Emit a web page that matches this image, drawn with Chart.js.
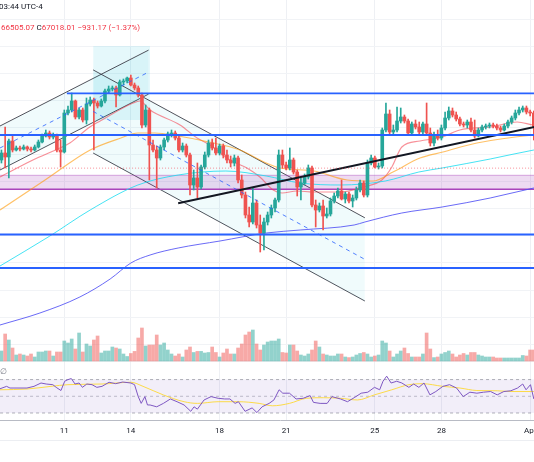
<!DOCTYPE html>
<html>
<head>
<meta charset="utf-8">
<script src="https://cdn.jsdelivr.net/npm/chart.js@4.4.1/dist/chart.umd.min.js"></script>
<style>
html,body{margin:0;padding:0;background:#fff;overflow:hidden;width:534px;height:462px;}
#wrap{position:relative;width:620px;height:462px;}
#c{position:absolute;left:0;top:0;}
.t{position:absolute;font-family:Roboto,"Liberation Sans",sans-serif;font-size:8px;white-space:nowrap;color:#131722;line-height:10px;}
.r{color:#f23645;}
#axb{position:absolute;left:0;top:440px;width:620px;height:1px;background:#eceef2;}
</style>
</head>
<body>
<div id="wrap">
<canvas id="c" width="620" height="462"></canvas>
<div class="t" style="left:-1px;top:2px;">03:44 UTC-4</div>
<div class="t" style="left:1px;top:23px;"><span class="r">66505.07</span> C<span class="r">67018.01</span> <span class="r">−931.17 (−1.37%)</span></div>
<div class="t" style="left:0;top:367px;color:#787b86;">∅</div>
<div id="axb"></div>
</div>
<script>
// ---- time axis (4h candles, index 0 = Mar 8 04:00) ----
const dayTickIdx = [17, 35, 59, 77, 101, 119, 143];
const dayTickLabels = ['11', '14', '18', '21', '25', '28', 'Apr'];

// ---- candles (BTC, 4h) ----
const open = [
67620,68138,67842,69026,68360,68508,68434,68582,68434,68360,
68582,68952,69396,69618,69322,69470,68360,68212,71098,71320,
71986,70802,71320,70580,71764,72060,71838,71616,71986,72726,
72874,72948,72430,73392,73466,73688,73170,72948,72430,70210,
71320,68730,68360,67768,68582,69100,69544,69618,69248,68360,
68656,67990,65770,66288,65622,67102,67990,68878,68508,68138,
68656,67990,67620,67398,67768,66140,65030,63550,63032,64438,
62810,62218,63032,63550,64068,64660,67990,67250,67028,67620,
66732,65622,65918,66362,67028,64290,63920,64216,63476,63624,
64586,64956,65326,64734,65104,64586,64808,65400,65918,65030,
67398,67768,67102,67176,69840,71024,69692,69840,70506,70802,
70506,69618,70284,70062,69692,70284,69618,68878,69470,69248,
69988,70728,71246,70950,70654,70284,70210,70432,69840,69396,
69840,70062,70136,70210,70136,69988,69840,70136,70432,70728,
71098,71320,71468,71172,71098];
const high = [
68360,70062,69174,69396,68656,68656,68730,68656,68582,68730,
69100,69544,69840,69766,69618,69544,69100,71320,71616,72578,
72060,71468,71468,72208,72282,72208,71986,72134,72874,73096,
73096,73096,73540,73614,73762,73910,73318,73096,72578,71690,
71468,69100,68656,68730,69248,69692,69840,69766,69470,68878,
68804,68138,66880,67398,67250,68212,69100,69174,69248,68804,
68804,68360,67916,67990,67916,66510,65252,64142,65548,64660,
63550,63328,63772,64290,64808,68360,68360,67472,68508,67768,
66880,66288,66584,67250,67176,64660,64438,64660,64068,64808,
65178,65548,66140,65252,65252,65030,65622,66140,66066,67620,
67990,67916,67398,69988,71838,71320,70210,71542,71468,70950,
70654,70432,70580,70432,70432,71838,69988,69692,69840,70210,
71172,71542,71468,71172,70802,70432,70580,70728,70580,69988,
70210,70284,70358,70358,70284,70136,70284,70580,70876,71320,
71542,71616,71616,71320,71246];
const low = [
67398,67028,66288,68212,68286,68286,68360,68286,68212,68286,
68508,68878,69322,69174,69174,68212,67102,68138,70950,71172,
70654,70654,70432,70284,71616,68360,71468,71542,71838,72578,
72726,71542,72356,73170,73318,73096,72800,72282,69988,70062,
66140,68212,65548,67620,68360,68952,69322,69100,68212,68212,
67842,65030,65400,64808,65474,66954,67842,68360,67990,67990,
67768,67398,67102,67176,65918,64808,63328,62662,62884,62588,
60812,60960,62810,63328,63772,64512,67028,66880,66880,66584,
64956,64660,65770,66214,64142,62662,63772,62440,63328,63476,
64438,64808,64660,64438,64438,64142,64660,65252,64882,64882,
67250,67028,66954,67028,69692,69544,69470,69692,70358,70358,
69470,69470,69914,69544,69544,69470,68656,68656,69100,69100,
69840,70580,70802,70506,70136,70062,69988,69692,69248,69322,
69692,69914,69988,69988,69840,69692,69766,69988,70284,70580,
70950,71172,71024,70876,69100];
const close = [
68138,67842,69026,68360,68508,68434,68582,68434,68360,68582,
68952,69396,69618,69322,69470,68360,68212,71098,71320,71986,
70802,71320,70580,71764,72060,71838,71616,71986,72726,72874,
72948,72430,73392,73466,73688,73170,72948,72430,70210,71320,
68730,68360,67768,68582,69100,69544,69618,69248,68360,68656,
67990,65770,66288,65622,67102,67990,68878,68508,68138,68656,
67990,67620,67398,67768,66140,65030,63550,63032,64438,62810,
62218,63032,63550,64068,64660,67990,67250,67028,67620,66732,
65622,65918,66362,67028,64290,63920,64216,63476,63624,64586,
64956,65326,64734,65104,64586,64808,65400,65918,65030,67398,
67768,67102,67176,69840,71024,69692,69840,70506,70802,70506,
69618,70284,70062,69692,70284,69618,68878,69470,69248,69988,
70728,71246,70950,70654,70284,70210,70432,69840,69396,69840,
70062,70136,70210,70136,69988,69840,70136,70432,70728,71098,
71320,71468,71172,71098,70062];
const volume = [
1000,2700,2100,1300,600,700,600,500,700,400,
900,900,1000,1000,500,900,900,2000,1800,2200,
1200,2800,900,1700,1500,2100,2500,800,1000,1000,
1400,1300,1200,700,450,750,960,2300,3300,1500,
1600,1600,2600,1600,1800,1100,700,500,700,400,
1100,1400,850,960,960,800,850,1400,850,400,
800,1200,700,700,1300,1700,2600,2900,3100,1700,
1100,1600,1900,2000,2000,2200,850,800,1600,1600,
1000,600,500,700,1100,2000,1400,700,600,500,
500,700,700,400,340,400,600,750,850,700,
400,500,600,2000,1800,1000,400,700,1000,1300,
750,400,400,400,700,2800,1200,340,400,700,
850,1000,700,400,600,750,600,850,850,600,
500,400,400,400,300,300,300,300,300,300,
300,550,500,1100,1100];

// ---- moving averages (read at sparse positions) ----
const maRedIdx = [-0.4,8.5,15.8,18.5,23.9,26.7,35.6,37.5,40.2,48.3,52.9,56.4,61.8,66.4,69.9,73.5,75.9,79.9,84.3,91.6,97.8,102.9,105.6,108.3,113.2,119.2,124,132.2,139.5,144,152];
const maRed = [66362,67620,68508,68878,70062,70506,71838,71986,71320,70210,69248,68730,67620,67028,66362,65400,65178,65326,65252,65252,65622,66140,67102,68582,69026,69322,69840,70062,70432,70210,70100];
const maOrangeIdx = [-0.4,11.8,24,32.3,36.9,41.5,47.8,56.1,64.5,71,75.3,84.5,93.5,100.5,105.9,113.2,119.4,128.6,144,152];
const maOrange = [63920,66140,68360,69248,69618,69618,69396,68952,68360,67472,67028,66806,66140,66066,66732,67768,68212,68878,69470,69600];
const maCyanIdx = [-0.4,13.1,24,36.9,47.8,60.7,71.6,80.8,91.6,103.8,112.9,119.2,132.2,144,152];
const maCyan = [59776,61996,63920,65770,66510,66806,66436,65918,65770,66066,66732,67028,67694,68360,68700];
const maBlueIdx = [-0.4,10.4,21.2,29.4,35,40.2,47.8,59.1,71.6,80.8,95.4,98.3,108.3,119.2,132.2,144,152];
const maBlue = [55410,56298,57482,58814,59998,60590,61108,61626,62218,62440,62810,63032,63698,64142,64808,65548,65950];

// ---- RSI pane ----
const rsiIdx = [-0.4,1.4,2.3,6.9,8.8,10.7,12.1,13.9,14.8,16.1,17.1,18,18.9,19.9,21,21.9,23.1,24.5,25.8,27.2,29.1,30.9,32.8,35,36,37,37.8,38.8,39.5,40.2,42,43.8,45.7,47.5,49.4,51.2,52.1,53,54.8,56.7,58.6,60.4,61.8,63.2,64.1,65.9,67.8,69.1,70.5,72.4,73.7,75.1,76.1,77.9,79.7,81.6,83.5,84.4,86.2,88.1,89.4,91.7,93.6,95.4,97.3,99.1,100.9,102.3,103.2,104.2,105.4,106.9,108.3,110.2,111.5,112.9,114.3,115.9,117.5,119.4,121.2,123.1,124.9,126.7,128.6,130.4,132.3,134.1,135.9,137.8,139.6,141,141.9,143.1,144];
const rsiVal = [59.0,61.9,59.9,59.9,61.9,65.9,64.7,63.9,60.7,56.9,68.0,70.0,71.2,64.7,65.9,60.7,64.7,63.9,60.7,61.9,66.8,65.1,67.1,65.9,63.9,49.6,41.5,49.6,39.6,39.6,37.4,41.5,46.8,43.5,39.6,32.0,37.4,34.6,45.6,49.6,47.6,46.8,46.8,41.5,43.5,32.0,36.1,30.5,37.4,41.5,45.6,57.8,53.7,53.7,46.8,47.6,50.8,42.7,41.5,41.5,49.6,46.8,43.5,48.3,53.7,54.9,60.7,57.8,68.0,74.1,65.9,68.0,65.9,60.7,64.7,60.7,65.9,51.7,55.7,61.9,63.9,59.9,49.6,54.9,53.7,54.9,55.7,51.7,55.7,56.6,59.9,64.7,57.8,63.9,46.8];
const rsiMaIdx = [-0.4,6.9,13.4,18,27.2,35,38.3,43.8,49.4,53,58.6,64.1,69.7,73.3,77.9,82.5,87.1,91.7,96.3,100.9,105.6,110.2,113.8,119.4,124,128.6,134.1,137.8,144];
const rsiMaVal = [57.8,58.7,61.9,63.9,64.7,66.8,61.9,51.6,43.5,41.5,43.5,43.5,41.5,38.6,41.5,47.6,48.3,47.6,45.6,51.7,57.8,63.9,65.1,61.9,59.9,56.9,56.6,55.7,55.7];
const rsiBands = [70, 50, 30];

// ---- drawings (index, price) ----
const levelPrices = [72556, 69470, 62107, 59628];
const levelStartIdx = [17.7, -2, -2, -2];
const zonePrices = [66488, 65452];
const lastPrice = 67018.01;
const boxTop = [[24.8, 76056], [40.2, 76056]];
const boxBottom = [[24.8, 70580], [40.2, 70580]];
const ascUpper = [[-0.4, 70136], [39.8, 75753]];
const ascLower = [[-0.4, 66880], [39.8, 72497]];
const ascMid = [[-0.4, 68508], [39.8, 74125]];
const descUpper = [[24.8, 74287], [98.3, 63343]];
const descLower = [[24.8, 68138], [98.3, 57186]];
const descMid = [[24.8, 71213], [98.3, 60265]];
const trendLine = [[47.8, 64416], [162, 71105]];
const priceGrid = [54000,56000,58000,60000,62000,64000,66000,68000,70000,72000,74000,76000,78000];

// ---- build ----
const UP = '#26a69a', DN = '#ef5350';
const idx = close.map((_, i) => i);
const candleCol = idx.map(i => close[i] >= open[i] ? UP : DN);
const volCol = idx.map(i => close[i] >= open[i] ? 'rgba(38,166,154,0.5)' : 'rgba(239,83,80,0.5)');
const pts = a => a.map(([x, y]) => ({x, y}));
const zip = (xs, ys) => xs.map((x, i) => ({x, y: ys[i]}));
const hl = (y, x0 = -2, x1 = 170) => [{x: x0, y}, {x: x1, y}];
const L = (data, color, extra) => Object.assign({type: 'line', data, borderColor: color, borderWidth: 1, pointRadius: 0, fill: false, tension: 0, yAxisID: 'y', order: 10}, extra || {});

const datasets = [
  L(pts(boxTop), 'rgba(0,0,0,0)', {borderWidth: 0, fill: '+1', backgroundColor: 'rgba(0,188,212,0.10)', order: 100}),
  L(pts(boxBottom), 'rgba(0,0,0,0)', {borderWidth: 0, order: 100}),
  L(pts(ascUpper), 'rgba(50,52,62,0.85)', {fill: '+1', backgroundColor: 'rgba(0,188,212,0.06)', order: 99}),
  L(pts(ascLower), 'rgba(50,52,62,0.85)', {order: 99}),
  L(pts(descUpper), 'rgba(50,52,62,0.85)', {fill: '+1', backgroundColor: 'rgba(0,188,212,0.06)', order: 98}),
  L(pts(descLower), 'rgba(50,52,62,0.85)', {order: 98}),
  L(hl(zonePrices[0]), 'rgba(171,71,188,0.45)', {fill: '+1', backgroundColor: 'rgba(156,39,176,0.17)', order: 90}),
  L(hl(zonePrices[1]), '#ab47bc', {borderWidth: 1.5, order: 90}),
  L(hl(rsiBands[0]), 'rgba(120,123,134,0.6)', {yAxisID: 'yRsi', borderDash: [3, 3], fill: '+1', backgroundColor: 'rgba(126,87,194,0.1)', order: 85}),
  L(hl(rsiBands[2]), 'rgba(120,123,134,0.6)', {yAxisID: 'yRsi', borderDash: [3, 3], order: 85}),
  L(hl(rsiBands[1]), 'rgba(120,123,134,0.45)', {yAxisID: 'yRsi', borderDash: [3, 3], order: 85}),
  L(hl(0), '#dfe1e6', {yAxisID: 'yVol', order: 84}),
  {type: 'bar', data: idx.map(i => ({x: i, y: volume[i]})), backgroundColor: volCol, barThickness: 3, grouped: false, yAxisID: 'yVol', order: 80, borderWidth: 0},
  L(zip(maBlueIdx, maBlue), 'rgba(80,80,245,0.85)', {cubicInterpolationMode: 'monotone', order: 50}),
  L(zip(maCyanIdx, maCyan), 'rgba(24,220,240,0.8)', {cubicInterpolationMode: 'monotone', order: 50}),
  L(zip(maOrangeIdx, maOrange), 'rgba(255,152,0,0.6)', {cubicInterpolationMode: 'monotone', order: 50, borderWidth: 1.2}),
  L(zip(maRedIdx, maRed), 'rgba(242,54,69,0.55)', {cubicInterpolationMode: 'monotone', order: 50, borderWidth: 1.2}),
  {type: 'bar', data: idx.map(i => ({x: i, y: [low[i], high[i]]})), backgroundColor: candleCol, barThickness: 1, grouped: false, yAxisID: 'y', order: 41, borderWidth: 0},
  {type: 'bar', data: idx.map(i => ({x: i, y: [open[i], close[i]]})), backgroundColor: candleCol, barThickness: 3, grouped: false, yAxisID: 'y', order: 40, borderWidth: 0, minBarLength: 1},
  L(pts(ascMid), 'rgba(41,98,255,0.8)', {borderDash: [4, 4], order: 12}),
  L(pts(descMid), 'rgba(41,98,255,0.8)', {borderDash: [4, 4], order: 12}),
  L(pts(trendLine), '#131722', {borderWidth: 2, order: 11}),
  ...levelPrices.map((p, k) => L(hl(p, levelStartIdx[k]), '#2962ff', {borderWidth: 1.8, order: 10})),
  L(hl(lastPrice), 'rgba(242,54,69,0.55)', {borderDash: [1, 2], order: 9}),
  L(zip(rsiMaIdx, rsiMaVal), 'rgba(253,216,53,0.9)', {yAxisID: 'yRsi', cubicInterpolationMode: 'monotone', order: 21}),
  L(zip(rsiIdx, rsiVal), '#7e57c2', {yAxisID: 'yRsi', order: 20})
];

new Chart(document.getElementById('c'), {
  type: 'bar',
  data: {datasets},
  options: {
    responsive: false,
    animation: false,
    events: [],
    devicePixelRatio: 1,
    layout: {padding: 0},
    plugins: {legend: {display: false}, tooltip: {enabled: false}, title: {display: false}, colors: {enabled: false}},
    scales: {
      x: {
        type: 'linear', min: -0.392, max: 151.08, offset: false,
        afterBuildTicks: s => { s.ticks = dayTickIdx.map(v => ({value: v})); },
        afterFit: s => { s.height = 42; },
        ticks: {autoSkip: false, maxRotation: 0, padding: 6, color: '#131722', font: {size: 8, family: 'Roboto'},
          callback: (v, i) => dayTickLabels[i]},
        grid: {color: '#eef0f4', drawTicks: false, offset: false},
        border: {display: true, color: '#b8bbc4', width: 1}
      },
      y: {
        position: 'right', min: 48380, max: 79460,
        afterBuildTicks: s => { s.ticks = priceGrid.map(v => ({value: v})); },
        afterFit: s => { s.width = 60; },
        ticks: {display: false},
        grid: {color: '#f1f3f6', drawTicks: false},
        border: {display: false}
      },
      yVol: {display: false, min: -5900, max: 36100},
      yRsi: {display: false, min: 21.6, max: 524.6}
    }
  }
});
</script>
</body>
</html>
